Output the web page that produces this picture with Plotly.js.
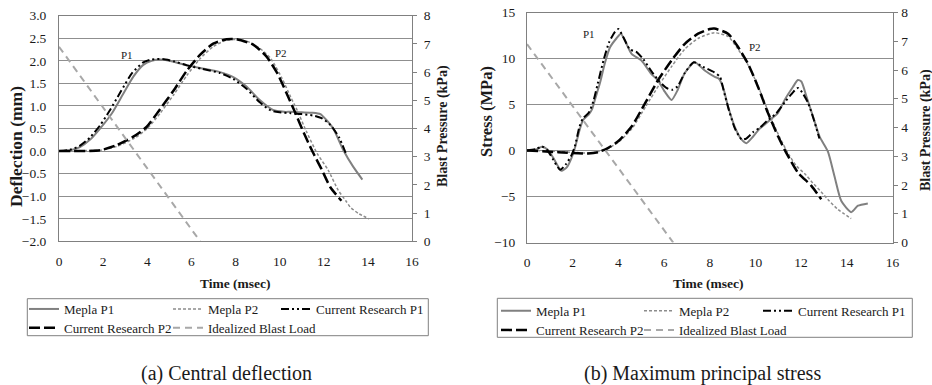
<!DOCTYPE html>
<html><head><meta charset="utf-8">
<script src="https://cdn.plot.ly/plotly-3.0.1.min.js"></script>
<style>html,body{margin:0;padding:0;background:#fff}#chart{width:932px;height:385px}</style>
</head><body><div id="chart"></div>
<script>
// ---------- (a) Central deflection ----------
const defTimeMeplaP1 = [0,0.5,0.95,1.4,1.86,2.4,2.9,3.37,3.82,4.2,4.6,5.2,5.8,6.5,7.3,7.9,8.5,9.1,9.7,10.2,10.5,11.0,11.5,11.85,12.1,12.43,12.89,13.34,13.75];
const defMeplaP1     = [0,0.02,0.09,0.25,0.5,0.84,1.26,1.65,1.91,2.0,2.03,1.98,1.9,1.83,1.75,1.64,1.43,1.13,0.91,0.87,0.87,0.86,0.85,0.82,0.7,0.5,0.02,-0.35,-0.63];
const defTimeCRP1    = [0,0.5,0.95,1.4,1.86,2.3,2.8,3.3,3.8,4.2,4.7,5.2,5.8,6.5,7.3,7.9,8.5,9.1,9.6,10.0,10.5,11.0,11.5,11.9,12.3,12.7,13.0];
const defCRP1        = [0,0.03,0.12,0.3,0.57,0.9,1.32,1.72,1.96,2.03,2.04,1.99,1.9,1.82,1.73,1.6,1.38,1.08,0.9,0.86,0.84,0.82,0.79,0.73,0.58,0.3,-0.05];
const defTimeMeplaP2 = [0,1.0,1.9,2.6,3.4,4.0,4.6,5.2,5.8,6.4,7.0,7.6,8.1,8.6,9.1,9.6,10.1,10.5,10.8,11.2,11.7,12.2,12.66,13.0,13.2,13.6,14.05];
const defMeplaP2     = [0,0.01,0.02,0.1,0.28,0.5,0.85,1.25,1.68,2.05,2.32,2.46,2.47,2.42,2.28,2.05,1.62,1.2,0.9,0.45,-0.05,-0.42,-0.87,-1.1,-1.24,-1.39,-1.5];
const defTimeCRP2    = [0,1.86,2.6,3.37,3.98,4.58,5.18,5.79,6.39,6.99,7.6,8.05,8.8,9.4,9.9,10.3,10.7,11.1,11.5,11.9,12.3,12.8];
const defCRP2        = [0,0.02,0.13,0.32,0.54,0.93,1.33,1.78,2.13,2.38,2.48,2.48,2.36,2.1,1.72,1.3,0.86,0.4,-0.02,-0.4,-0.8,-1.1];

// ---------- (b) Maximum principal stress ----------
const strTimeMeplaP1 = [0,0.4,0.65,0.9,1.15,1.5,1.75,1.95,2.1,2.3,2.45,2.7,2.85,2.97,3.19,3.41,3.63,3.92,4.11,4.28,4.58,5.0,5.45,5.74,6.03,6.33,6.6,6.9,7.34,7.78,8.22,8.4,8.58,8.8,9.09,9.39,9.6,9.89,10.19,10.4,10.62,10.99,11.28,11.64,11.86,12.01,12.23,12.52,12.81,13.17,13.46,13.76,14.19,14.49,14.92];
const strMeplaP1     = [0,0.1,0.4,0.1,-0.8,-2.2,-1.8,-0.8,0.3,2.2,3.3,3.9,4.5,5.5,7.3,9.5,11.2,12.2,12.7,12.0,10.5,9.8,8.3,7.6,6.4,5.5,6.6,8.4,9.6,8.7,8.0,7.8,6.9,4.8,2.6,1.2,0.8,1.5,2.4,2.8,3.3,4.1,5.5,6.9,7.66,7.5,5.9,3.7,1.5,-0.1,-2.8,-5.5,-6.7,-6.0,-5.75];
const strTimeCRP1    = [0,0.4,0.65,0.9,1.15,1.45,1.7,1.95,2.1,2.3,2.45,2.7,2.9,3.1,3.35,3.6,3.85,4.0,4.2,4.5,4.8,5.1,5.45,5.8,6.1,6.35,6.6,6.9,7.3,7.7,8.2,8.45,8.6,8.85,9.1,9.4,9.6,9.9,10.2,10.5,10.9,11.3,11.6,11.86,12.05,12.3,12.55,12.8];
const strCRP1        = [0,0.15,0.45,0.0,-1.0,-2.1,-1.5,-0.5,0.5,2.6,3.5,4.1,5.3,7.3,9.8,11.8,12.9,13.2,12.4,11.0,10.7,9.9,8.6,7.5,6.8,6.6,7.0,8.4,9.6,9.1,8.5,8.0,6.6,4.3,2.4,1.2,1.3,2.0,2.5,3.2,4.0,5.3,6.2,6.8,6.3,5.2,3.4,1.3];
const strTimeMeplaP2 = [0,1.0,2.0,2.7,3.1,3.6,4.0,4.6,5.2,5.8,6.35,6.9,7.5,8.2,8.8,9.24,9.7,10.15,10.6,11.05,11.45,11.8,12.15,12.5,12.88,13.2,13.61,14.19];
const strMeplaP2     = [0,-0.05,-0.2,-0.28,-0.15,0.3,0.9,2.4,4.8,7.2,9.2,11.0,12.2,12.8,12.4,11.0,9.2,6.8,4.0,1.5,-0.4,-1.7,-2.5,-3.5,-4.5,-5.4,-6.4,-7.4];
const strTimeCRP2    = [0,1.37,2.68,3.12,3.56,3.99,4.58,5.16,5.74,6.33,6.91,7.49,8.0,8.2,8.8,9.24,9.67,10.11,10.55,10.99,11.35,11.86,12.45,12.88];
const strCRP2        = [0,-0.18,-0.33,-0.18,0.29,1.0,2.6,5.1,7.66,9.8,11.6,12.7,13.2,13.25,12.7,11.25,9.46,6.94,4.06,1.54,-0.25,-2.4,-3.84,-5.3];

// ---------- Idealized blast load (kPa, right axis) ----------
const blastTime     = [0, 6.4];
const blastPressure = [6.9, 0];

// ---------- labels ----------
const seriesNames = ['Mepla P1','Mepla P2','Current Research P1','Current Research P2','Idealized Blast Load'];
const timeTicks = [0,2,4,6,8,10,12,14,16];

const W = 932, H = 385;
const FONT = '"Liberation Serif", "Times New Roman", serif';
const fx = p => p / W;
const fy = p => 1 - p / H;

const styles = [
  {color:'#808080', width:2, dash:'solid'},
  {color:'#8c8c8c', width:1.5, dash:'3px,2px'},
  {color:'#000000', width:2, dash:'8px,3px,2px,3px,2px,3px'},
  {color:'#000000', width:2.5, dash:'11px,4px'},
  {color:'#a8a8a8', width:2, dash:'7px,5px'}
];

function tr(i, x, y, xa, ya, legendId, smooth) {
  return {type:'scatter', mode:'lines', x:x, y:y, xaxis:xa, yaxis:ya, name:seriesNames[i],
    legend:legendId, showlegend:true,
    line:Object.assign({shape: smooth ? 'spline' : 'linear', smoothing:0.6}, styles[i]),
    hoverinfo:'skip'};
}

const data = [
  tr(0, defTimeMeplaP1, defMeplaP1, 'x', 'y', 'legend', true),
  tr(1, defTimeMeplaP2, defMeplaP2, 'x', 'y', 'legend2', true),
  tr(2, defTimeCRP1, defCRP1, 'x', 'y', 'legend3', true),
  tr(3, defTimeCRP2, defCRP2, 'x', 'y', 'legend4', true),
  tr(4, blastTime, blastPressure, 'x', 'y2', 'legend5', false),
  tr(0, strTimeMeplaP1, strMeplaP1, 'x2', 'y3', 'legend6', true),
  tr(1, strTimeMeplaP2, strMeplaP2, 'x2', 'y3', 'legend7', true),
  tr(2, strTimeCRP1, strCRP1, 'x2', 'y3', 'legend8', true),
  tr(3, strTimeCRP2, strCRP2, 'x2', 'y3', 'legend9', true),
  tr(4, blastTime, blastPressure, 'x2', 'y4', 'legend10', false)
];

const gridC = '#8f8f8f', lineC = '#808080', txtC = '#1a1a1a';
const tickFont = {family:FONT, size:13.5, color:txtC};

const domAx = [fx(59), fx(412)], domAy = [fy(241.4), fy(15.7)];
const domBx = [fx(527), fx(892.5)], domBy = [fy(242.5), fy(12.5)];
const rangeA = [-2, 3], rangeB = [-10, 15];
const zeroPos = (dom, r) => dom[0] + (0 - r[0]) / (r[1] - r[0]) * (dom[1] - dom[0]);

function xMain(dom, anchor) {
  return {domain:dom, anchor:anchor, range:[0,16], tickvals:timeTicks, ticktext:timeTicks.map(String),
    showgrid:false, zeroline:false, showline:true, mirror:true, linecolor:lineC, linewidth:1,
    ticks:'', tickfont:tickFont, ticklabelstandoff:7, fixedrange:true};
}
function xZero(over, pos) {
  return {overlaying:over, anchor:'free', position:pos, range:[0,16], tickvals:timeTicks,
    showticklabels:false, ticks:'inside', ticklen:4, tickcolor:lineC, showgrid:false, zeroline:false,
    showline:true, linecolor:lineC, linewidth:1, fixedrange:true};
}
function yLeft(dom, anchor, range, dtick, fmt, standoff) {
  return {domain:dom, anchor:anchor, range:range, dtick:dtick, tick0:0, tickformat:fmt,
    showgrid:true, gridcolor:gridC, gridwidth:1, zeroline:false, showline:true, linecolor:lineC,
    ticks:'', tickfont:tickFont, ticklabelstandoff:standoff, fixedrange:true};
}
function yRight(over, anchor, standoff) {
  return {overlaying:over, anchor:anchor, side:'right', range:[0,8], dtick:1, tick0:0,
    showgrid:false, zeroline:false, showline:true, linecolor:lineC, ticks:'outside', ticklen:4,
    tickcolor:lineC, tickfont:tickFont, ticklabelstandoff:standoff, fixedrange:true};
}

function leg(textPx, rowPy) {
  return {x:fx(textPx - 40), y:fy(rowPy), xanchor:'left', yanchor:'middle', orientation:'h',
    bgcolor:'rgba(0,0,0,0)', borderwidth:0, itemwidth:30,
    font:{family:FONT, size:13, color:txtC}};
}

function ann(text, x, y, size, bold, angle) {
  return {xref:'paper', yref:'paper', x:fx(x), y:fy(y), xanchor:'center', yanchor:'middle',
    text: bold ? '<b>' + text + '</b>' : text, showarrow:false, textangle:angle || 0,
    font:{family:FONT, size:size, color:txtC}};
}
function dataLabel(text, xa, ya, x, y) {
  return {xref:xa, yref:ya, x:x, y:y, text:text, showarrow:false,
    font:{family:FONT, size:11, color:txtC}};
}

const layout = {
  width:W, height:H, margin:{l:0, r:0, t:0, b:0, autoexpand:false},
  paper_bgcolor:'#ffffff', plot_bgcolor:'rgba(0,0,0,0)', hovermode:false, showlegend:true,
  xaxis: xMain(domAx, 'y'),
  yaxis: yLeft(domAy, 'x', rangeA, 0.5, '.1f', 9),
  yaxis2: yRight('y', 'x', 4),
  xaxis3: xZero('x', zeroPos(domAy, rangeA)),
  xaxis2: xMain(domBx, 'y3'),
  yaxis3: yLeft(domBy, 'x2', rangeB, 5, 'd', 8),
  yaxis4: yRight('y3', 'x2', 1),
  xaxis4: xZero('x2', zeroPos(domBy, rangeB)),
  legend: leg(64, 309), legend2: leg(208, 309), legend3: leg(316, 309),
  legend4: leg(64, 327.7), legend5: leg(208, 327.7),
  legend6: leg(536, 310.7), legend7: leg(679, 310.7), legend8: leg(798, 310.7),
  legend9: leg(536, 330), legend10: leg(679, 330),
  shapes: [
    {type:'rect', xref:'paper', yref:'paper', x0:fx(27.3), x1:fx(428.3), y0:fy(335.7), y1:fy(298.7), line:{color:lineC, width:1}},
    {type:'rect', xref:'paper', yref:'paper', x0:fx(497.3), x1:fx(912.3), y0:fy(337.3), y1:fy(298.3), line:{color:lineC, width:1}}
  ],
  annotations: [
    ann('Deflection (mm)', 16, 147, 17.5, true, -90),
    ann('Blast Pressure (kPa)', 443, 126, 14, true, -90),
    ann('Time (msec)', 235, 283, 13.5, true),
    ann('(a) Central deflection', 226, 373, 20, false),
    ann('Stress (MPa)', 486, 112, 16.5, true, -90),
    ann('Blast Pressure (kPa)', 926, 130, 14, true, -90),
    ann('Time (msec)', 708, 283, 13.5, true),
    ann('(b) Maximum principal stress', 702, 373, 20, false),
    dataLabel('P1', 'x', 'y', 3.07, 2.13),
    dataLabel('P2', 'x', 'y', 10.05, 2.17),
    dataLabel('P1', 'x2', 'y3', 2.7, 12.7),
    dataLabel('P2', 'x2', 'y3', 10.0, 11.3)
  ]
};

Plotly.newPlot('chart', data, layout, {staticPlot:true, displayModeBar:false});
</script></body></html>
